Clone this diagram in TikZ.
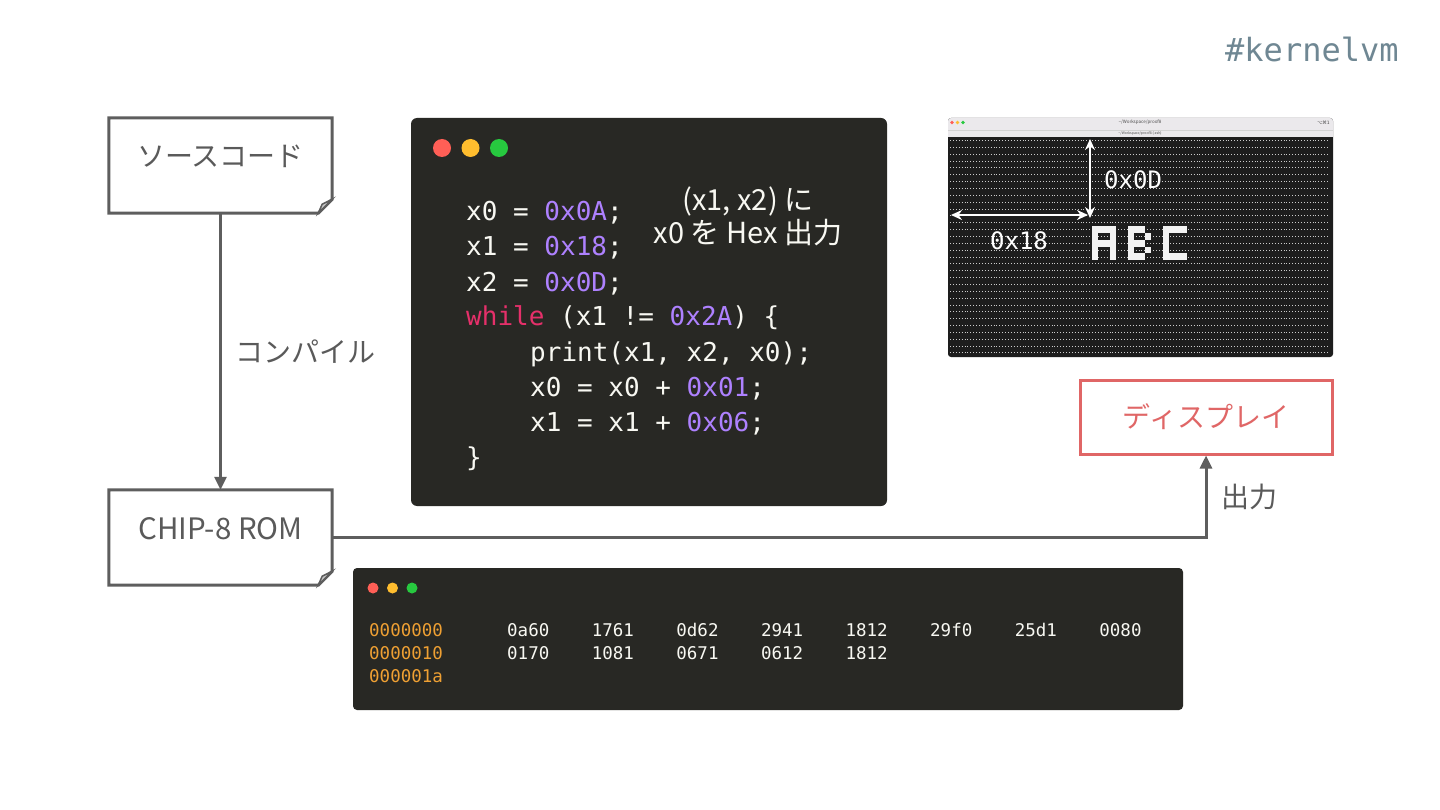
\documentclass[tikz,border=0pt]{standalone}
\usepackage{fontspec}
\setmainfont{Noto Sans CJK JP}
\newfontfamily\codefont{DejaVu Sans Mono}
\newfontfamily\symfont{DejaVu Sans}
\usetikzlibrary{arrows.meta,positioning,calc}

\definecolor{linegray}{HTML}{5E5E5E}
\definecolor{textgray}{HTML}{5A5A5A}
\definecolor{foldgray}{HTML}{C8C8C8}
\definecolor{dispred}{HTML}{E06666}
\definecolor{codebg}{HTML}{282824}
\definecolor{codetxt}{HTML}{F8F8F2}
\definecolor{codenum}{HTML}{AE81FF}
\definecolor{codekey}{HTML}{E5306A}
\definecolor{dumpaddr}{HTML}{EFA033}
\definecolor{tagcol}{HTML}{6F8793}
\definecolor{termbar}{HTML}{EBE9EC}
\definecolor{termbody}{HTML}{1D1D1D}
\definecolor{dotred}{HTML}{FF5F56}
\definecolor{dotyellow}{HTML}{FFBD2E}
\definecolor{dotgreen}{HTML}{27C93F}

\newcommand{\hexnum}[1]{\textcolor{codenum}{#1}}
\newcommand{\kwd}[1]{\textcolor{codekey}{#1}}
% outline with the folded corner
\newcommand{\docframe}[1]{%
  \draw[docline] (#1.north west) -- (#1.north east) -- ([yshift=14pt]#1.south east)
    -- ([xshift=-14pt]#1.south east) -- (#1.south west) -- cycle;
  \filldraw[docline,fill=foldgray,line width=1.5pt] ([xshift=-14pt]#1.south east)
    -- ([xshift=-10pt,yshift=9pt]#1.south east) -- ([yshift=14pt]#1.south east) -- cycle;
}

\tikzset{
  docbox/.style={minimum width=223pt,minimum height=95pt,inner sep=0pt,
    text height=22pt,text depth=19pt,text=textgray,font=\fontsize{28}{32}\selectfont},
  docline/.style={draw=linegray,line width=3pt,line join=miter},
  dispbox/.style={draw=dispred,line width=3pt,minimum width=252pt,minimum height=74pt,
    inner sep=0pt,text=dispred,font=\fontsize{28}{32}\selectfont},
  flow/.style={draw=linegray,line width=3pt,line join=miter,
    -{Triangle[length=13pt,width=12pt]}},
  lbl/.style={inner sep=0pt,text=textgray,font=\fontsize{28}{32}\selectfont},
  codeln/.style={inner sep=0pt,text=codetxt,font=\codefont\fontsize{26}{35}\selectfont},
  note/.style={inner sep=0pt,text=codetxt,align=center,font=\fontsize{29}{33}\selectfont},
  dumpaddr/.style={inner sep=0pt,text=dumpaddr,font=\codefont\fontsize{17.5}{23}\selectfont},
  dumpval/.style={inner sep=0pt,text=codetxt,font=\codefont\fontsize{17.5}{23}\selectfont},
  dimtxt/.style={inner sep=0pt,text=white,font=\codefont\fontsize{24}{28}\selectfont},
  dim/.style={white,line width=2.6pt,{Stealth[length=11pt,width=10pt]}-{Stealth[length=11pt,width=10pt]}},
  scan/.style={gray!40,line width=0.6pt,dash pattern=on 0.7pt off 2.2pt},
  pix/.style={fill=gray!10},
  titletxt/.style={inner sep=0pt,text=gray!60!black,font=\fontsize{4.5}{5}\selectfont},
}

\begin{document}
\begin{tikzpicture}[x=1pt,y=-1pt]
\useasboundingbox (0,0) rectangle (1440,810);
\fill[white] (0,0) rectangle (1440,810);

\node[anchor=base west,inner sep=0pt,text=tagcol,font=\codefont\fontsize{32}{36}\selectfont]
  (tag) at (1225,62) {\#kernelvm};

% flow on the left
\node[docbox] (src) at (220.5,165.5) {ソースコード};
\docframe{src}
\node[docbox,font=\fontsize{29.5}{32}\selectfont] (rom) at (220.5,537.5) {CHIP-8 ROM};
\docframe{rom}
\node[dispbox] (disp) at (1206,417) {ディスプレイ};

\draw[flow] (src) -- node[midway,right=13pt,lbl] (complbl) {コンパイル} (rom);
\draw[flow] (rom.east) -- (rom.east -| disp.south)
  -- node[midway,right=14pt,lbl] (outlbl) {出力} (disp.south);

% code window
\fill[codebg,rounded corners=6pt] (411,118) rectangle (887,506);
\foreach \col [count=\i from 0] in {dotred,dotyellow,dotgreen}
  \fill[\col] ({442+28.5*\i},148) circle (9pt);
\foreach \dx/\txt [count=\k from 0] in {
    0/{x0 = \hexnum{0x0A};},
    0/{x1 = \hexnum{0x18};},
    0/{x2 = \hexnum{0x0D};},
    0/{\kwd{while} (x1 != \hexnum{0x2A}) \{},
    64/{print(x1, x2, x0);},
    64/{x0 = x0 + \hexnum{0x01};},
    64/{x1 = x1 + \hexnum{0x06};},
    0/{\}}}
  \node[codeln,anchor=base west] (code\k) at ({466+\dx},{221+35*\k}) {\txt};
\node[note] (notelbl) at (748,216) {(x1, x2) に\\x0 を Hex 出力};

% hexdump window
\fill[codebg,rounded corners=4pt] (353,568) rectangle (1183,710);
\foreach \col [count=\i from 0] in {dotred,dotyellow,dotgreen}
  \fill[\col] ({373+19.5*\i},588) circle (5.5pt);
\foreach \addr [count=\r from 0] in {0000000,0000010,000001a}
  \node[dumpaddr,anchor=base west] (addr\r) at (369,{636.5+23*\r}) {\addr};
\foreach \v [count=\c from 0] in {0a60,1761,0d62,2941,1812,29f0,25d1,0080}
  \node[dumpval,anchor=base west] (hexa\c) at ({507+84.6*\c},636.5) {\v};
\foreach \v [count=\c from 0] in {0170,1081,0671,0612,1812}
  \node[dumpval,anchor=base west] (hexb\c) at ({507+84.6*\c},659.5) {\v};

% emulator screen
\fill[termbody,rounded corners=3pt] (948,118) rectangle (1333,357);
\fill[termbar,rounded corners=3pt] (948,118) rectangle (1333,137);
\fill[termbar] (948,128) rectangle (1333,137);
\draw[gray!35,line width=0.5pt] (948,130.5) -- (1333,130.5);
\foreach \col [count=\i from 0] in {dotred,dotyellow,dotgreen}
  \fill[\col] ({952+5.5*\i},122.5) circle (1.8pt);
\node[titletxt] (ttl) at (1140,122.5) {\textasciitilde/Workspace/proof8};
\node[titletxt,font=\fontsize{3.5}{4}\selectfont] (subttl) at (1140,133.5) {\textasciitilde/Workspace/proof8 (-zsh)};
\node[titletxt,anchor=east,font=\symfont\fontsize{4.5}{5}\selectfont] (keys) at (1330,122.5) {⌥⌘1};
\foreach \r in {0,...,31}
  \draw[scan] (950,{140.4+6.85*\r}) -- (1329,{140.4+6.85*\r});
% A B C in 4x5 sprites
\foreach \c/\r in {24/13,25/13,26/13,27/13,24/14,27/14,24/15,25/15,26/15,27/15,24/16,27/16,24/17,27/17,
    30/13,31/13,32/13,30/14,33/14,30/15,31/15,32/15,30/16,33/16,30/17,31/17,32/17,
    36/13,37/13,38/13,39/13,36/14,36/15,36/16,36/17,37/17,38/17,39/17}
  \fill[pix] ({950+5.92*\c},{137+6.85*\r}) rectangle +(5.92,6.85);
\coordinate (vtop) at (1090,139);
\coordinate (vbot) at (1090,218);
\coordinate (hleft) at (951,215);
\coordinate (hright) at (1088,215);
\draw[dim] (vtop) -- (vbot);
\draw[dim] (hleft) -- (hright);
\node[dimtxt,anchor=west] (ylbl) at (1104,180) {0x0D};
\node[dimtxt] (xlbl) at (1019,241) {0x18};
\end{tikzpicture}
\end{document}
